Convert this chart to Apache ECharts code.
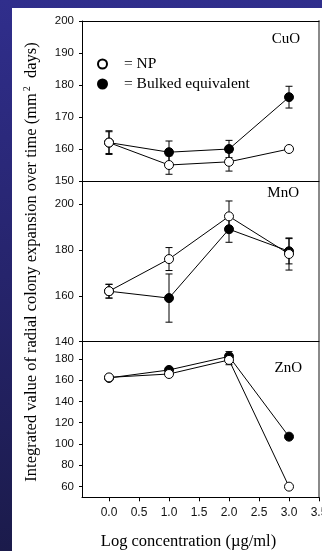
<!DOCTYPE html>
<html>
<head>
<meta charset="utf-8">
<script src="https://cdn.jsdelivr.net/npm/echarts@6/dist/echarts.min.js"></script>
<style>
html,body{margin:0;padding:0;width:322px;height:551px;overflow:hidden;}
body{background:linear-gradient(to bottom,#302e8c 0%,#26246c 50%,#1b1b4b 100%);position:relative;}
#paper{position:absolute;left:12px;top:8px;right:0;bottom:0;background:#fff;}
#chart{position:absolute;left:0;top:0;width:322px;height:551px;}
</style>
</head>
<body>
<div id="paper"></div>
<div id="chart"></div>
<script>
// ---- data ----
const xValues = [0, 1, 2, 3];
const xTicks = [0, 0.5, 1, 1.5, 2, 2.5, 3, 3.5];

const panelNames = ['CuO', 'MnO', 'ZnO'];
const seriesNames = ['= NP', '= Bulked equivalent'];

const cuoNP = [162, 155, 156, 160];
const cuoNPErr = [3.4, 2.9, 2.9, 0];
const cuoBulk = [162, 159, 160, 176.2];
const cuoBulkErr = [3.7, 3.5, 2.7, 3.4];

const mnoNP = [162, 176, 194.6, 178.2];
const mnoNPErr = [3, 5, 6.7, 7];
const mnoBulk = [162, 159, 189, 179.4];
const mnoBulkErr = [3, 10.5, 5.7, 5.5];

const znoNP = [162.5, 165.7, 178.9, 60];
const znoNPErr = [1.5, 2, 4.5, 0];
const znoBulk = [162, 169.5, 182.2, 106.9];
const znoBulkErr = [1.5, 2, 4.5, 1];

const yTicks1 = [150, 160, 170, 180, 190, 200];
const yTicks2 = [140, 160, 180, 200];
const yTicks3 = [60, 80, 100, 120, 140, 160, 180];

// ---- chart ----
const SANS = '"Liberation Sans", Arial, sans-serif';
const SERIF = '"Liberation Serif", "Times New Roman", serif';

const chart = echarts.init(document.getElementById('chart'), null, {renderer: 'canvas'});

const grids = [
  {left: 82, top: 21, width: 237, height: 160, outerBoundsMode: 'none', containLabel: false},
  {left: 82, top: 181, width: 237, height: 160.7, outerBoundsMode: 'none', containLabel: false},
  {left: 82, top: 341.7, width: 237, height: 155.6, outerBoundsMode: 'none', containLabel: false}
];

const yRanges = [[150, 200, yTicks1], [140, 210, yTicks2], [50, 196, yTicks3]];

const xAxes = [];
const yAxes = [];
grids.forEach((g, i) => {
  const isBottom = i === 2;
  xAxes.push({
    type: 'value', gridIndex: i, min: -0.45, max: 3.5,
    axisLine: {show: true, onZero: false, lineStyle: {color: '#000', width: 1}},
    axisTick: {show: isBottom, customValues: xTicks, length: 4, inside: false, lineStyle: {color: '#000'}},
    axisLabel: {show: isBottom, customValues: xTicks, margin: 9, color: '#111', fontFamily: SANS, fontSize: 12,
      hideOverlap: false, formatter: v => v.toFixed(1)},
    splitLine: {show: false}
  });
  yAxes.push({
    type: 'value', gridIndex: i, min: yRanges[i][0], max: yRanges[i][1],
    axisLine: {show: true, onZero: false, lineStyle: {color: '#000', width: 1}},
    axisTick: {show: true, customValues: yRanges[i][2], length: 3, inside: false, lineStyle: {color: '#000'}},
    axisLabel: {show: true, customValues: yRanges[i][2], margin: 8, color: '#111', fontFamily: SANS, fontSize: 11.5},
    splitLine: {show: false}
  });
});
// top border of first panel
xAxes.push({
  type: 'value', gridIndex: 0, position: 'top', min: -0.45, max: 3.5,
  axisLine: {show: true, onZero: false, lineStyle: {color: '#000', width: 1}},
  axisTick: {show: false}, axisLabel: {show: false}, splitLine: {show: false}
});
// right border of each panel
grids.forEach((g, i) => {
  yAxes.push({
    type: 'value', gridIndex: i, position: 'right', min: yRanges[i][0], max: yRanges[i][1],
    axisLine: {show: true, onZero: false, lineStyle: {color: '#8a8a8a', width: 2}},
    axisTick: {show: false}, axisLabel: {show: false}, splitLine: {show: false}
  });
});

function errRenderer(params, api) {
  const x = api.value(0), v = api.value(1), e = api.value(2);
  if (!e) return null;
  const t = api.coord([x, v + e]);
  const b = api.coord([x, v - e]);
  const hw = 3.5;
  const st = {stroke: '#000', lineWidth: 1};
  return {type: 'group', children: [
    {type: 'line', shape: {x1: t[0], y1: t[1], x2: b[0], y2: b[1]}, style: st},
    {type: 'line', shape: {x1: t[0] - hw, y1: t[1], x2: t[0] + hw, y2: t[1]}, style: st},
    {type: 'line', shape: {x1: b[0] - hw, y1: b[1], x2: b[0] + hw, y2: b[1]}, style: st}
  ]};
}

const panels = [
  {np: cuoNP, npErr: cuoNPErr, bulk: cuoBulk, bulkErr: cuoBulkErr},
  {np: mnoNP, npErr: mnoNPErr, bulk: mnoBulk, bulkErr: mnoBulkErr},
  {np: znoNP, npErr: znoNPErr, bulk: znoBulk, bulkErr: znoBulkErr}
];

const series = [];
panels.forEach((p, i) => {
  [[p.bulk, p.bulkErr], [p.np, p.npErr]].forEach(([vals, errs]) => {
    series.push({
      type: 'custom', xAxisIndex: i, yAxisIndex: i, z: 1, silent: true,
      renderItem: errRenderer, encode: {x: 0, y: 1},
      data: xValues.map((x, k) => [x, vals[k], errs[k]])
    });
  });
  series.push({
    name: seriesNames[1], type: 'line', xAxisIndex: i, yAxisIndex: i, z: 3,
    symbol: 'circle', symbolSize: 9,
    lineStyle: {color: '#000', width: 1},
    itemStyle: {color: '#000', borderColor: '#000', borderWidth: 1},
    data: xValues.map((x, k) => [x, p.bulk[k]])
  });
  series.push({
    name: seriesNames[0], type: 'line', xAxisIndex: i, yAxisIndex: i, z: 4,
    symbol: 'circle', symbolSize: 9,
    lineStyle: {color: '#000', width: 1},
    itemStyle: {color: '#fff', borderColor: '#000', borderWidth: 1},
    data: xValues.map((x, k) => [x, p.np[k]])
  });
});

const titleTops = [32, 186, 361];
const titleRights = [22, 23, 20];

chart.setOption({
  animation: false,
  backgroundColor: 'transparent',
  grid: grids,
  xAxis: xAxes,
  yAxis: yAxes,
  title: panelNames.map((n, i) => ({
    text: n, right: titleRights[i], top: titleTops[i], padding: 0,
    textStyle: {fontFamily: SERIF, fontSize: 15, fontWeight: 'normal', color: '#000'}
  })),
  legend: {
    data: seriesNames, orient: 'vertical', left: 92, top: 51, itemGap: 4,
    itemWidth: 9, itemHeight: 9, icon: 'circle', selectedMode: false,
    textStyle: {fontFamily: SERIF, fontSize: 15.5, color: '#000', padding: [0, 0, 0, 12]}
  },
  graphic: [{
    type: 'text', x: 32, y: 262, rotation: Math.PI / 2, z: 10,
    style: {
      text: 'Integrated value of radial colony expansion over time (mm{sup|2} days)',
      fontFamily: SERIF, fontSize: 16.5, fill: '#000', align: 'center', verticalAlign: 'middle',
      rich: {sup: {fontFamily: SERIF, fontSize: 10, fill: '#000', padding: [0, 4, 9, 2]}}
    }
  }, {
    type: 'text', x: 188.5, y: 541.5, z: 10,
    style: {text: 'Log concentration (\u00b5g/ml)', fontFamily: SERIF, fontSize: 16.5, fill: '#000',
      align: 'center', verticalAlign: 'middle'}
  }],
  series: series
});
</script>
</body>
</html>
